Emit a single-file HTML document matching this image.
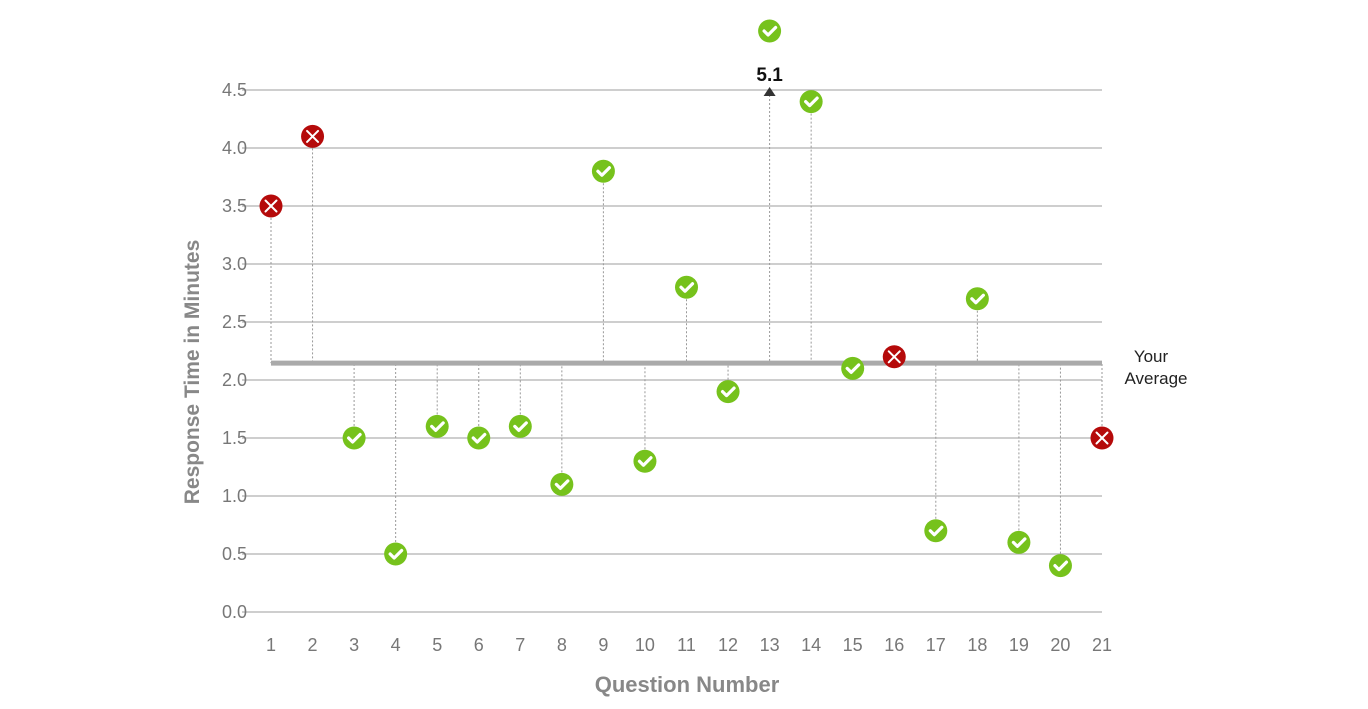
<!DOCTYPE html>
<html><head><meta charset="utf-8"><style>
html,body{margin:0;padding:0;background:#fff;}
svg{display:block;font-family:"Liberation Sans",sans-serif;}
</style></head><body>
<svg id="c" width="1368" height="709" viewBox="0 0 1368 709" xmlns="http://www.w3.org/2000/svg"></svg>
<script>
const s=document.getElementById('c');
let h='';
const y0=612,u=116,x0=271,dx=(1102-271)/20;
const Y=v=>y0-v*u, X=i=>x0+(i-1)*dx;
for(let k=0;k<=9;k++){const v=k*0.5,y=Y(v);
h+=`<line x1="242" x2="1102" y1="${y}" y2="${y}" stroke="#b0b0b0" stroke-width="1.3"/>`;
h+=`<text x="247" y="${y+6}" text-anchor="end" font-size="18" fill="#777">${v.toFixed(1)}</text>`;}
for(let i=1;i<=21;i++)h+=`<text x="${X(i)}" y="651" text-anchor="middle" font-size="18" fill="#777">${i}</text>`;
const avg=2.145,ya=Y(avg);
const d=[[3.5,0],[4.1,0],[1.5,1],[0.5,1],[1.6,1],[1.5,1],[1.6,1],[1.1,1],[3.8,1],[1.3,1],[2.8,1],[1.9,1],[null,1],[4.4,1],[2.1,1],[2.2,0],[0.7,1],[2.7,1],[0.6,1],[0.4,1],[1.5,0]];
let m='';
d.forEach((p,j)=>{const i=j+1,x=X(i);let y=p[0]===null?31:Y(p[0]);
 const yl=p[0]===null?95:y;
 h+=`<line x1="${x}" x2="${x}" y1="${yl}" y2="${ya}" stroke="#999" stroke-width="1" stroke-dasharray="2,2"/>`;
 if(p[1])m+=`<circle cx="${x}" cy="${y}" r="11.5" fill="#76c21c"/><path d="M${x-5.5} ${y} l4 4 l7.5 -7.5" fill="none" stroke="#fff" stroke-width="3.2" stroke-linecap="round" stroke-linejoin="round"/>`;
 else m+=`<circle cx="${x}" cy="${y}" r="11.5" fill="#b50a0a"/><path d="M${x-5.5} ${y-5.5} L${x+5.5} ${y+5.5} M${x+5.5} ${y-5.5} L${x-5.5} ${y+5.5}" stroke="#fff" stroke-width="2" stroke-linecap="round"/>`;
});
h+=`<line x1="271" x2="1102" y1="${ya}" y2="${ya}" stroke="#aaa" stroke-width="5"/>`;
h+=m;
const x13=X(13);
h+=`<path d="M${x13-6} 96 L${x13+6} 96 L${x13} 87 Z" fill="#333"/>`;
h+=`<text x="${x13}" y="81" text-anchor="middle" font-size="19" font-weight="bold" fill="#111">5.1</text>`;
h+=`<text x="1151" y="362" text-anchor="middle" font-size="17" fill="#222">Your</text><text x="1156" y="384" text-anchor="middle" font-size="17" fill="#222">Average</text>`;
h+=`<text x="687" y="692" text-anchor="middle" font-size="22" font-weight="bold" fill="#888">Question Number</text>`;
h+=`<text transform="translate(199,372) rotate(-90)" text-anchor="middle" font-size="21" font-weight="bold" fill="#888">Response Time in Minutes</text>`;
s.innerHTML=h;
</script>
</body></html>
